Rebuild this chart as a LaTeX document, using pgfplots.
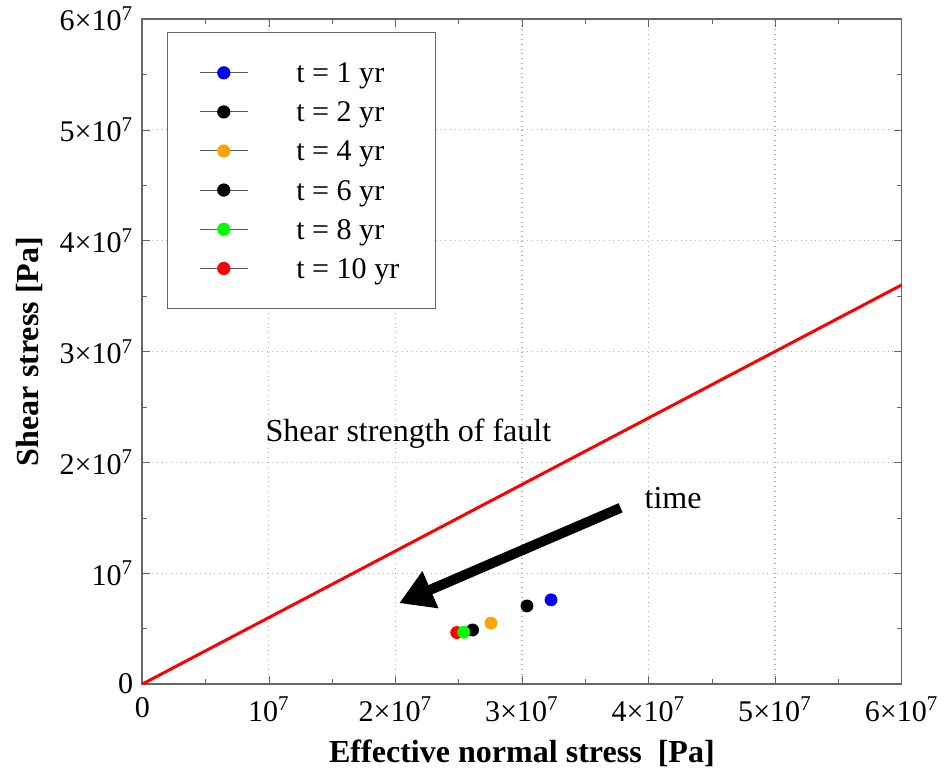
\documentclass[border=0pt]{standalone}
\usepackage{fontspec}
\setmainfont{Liberation Serif}
\usepackage{pgfplots}
\pgfplotsset{compat=1.18}
\usetikzlibrary{arrows.meta}

\definecolor{tone}{RGB}{255,165,0}
\definecolor{gline}{RGB}{0,255,0}

\begin{document}
\begin{tikzpicture}
\begin{axis}[
    scale only axis,
    width=379pt, height=332pt,
    xmin=0, xmax=6e7, ymin=0, ymax=6e7,
    xtick={0,1e7,2e7,3e7,4e7,5e7,6e7},
    ytick={0,1e7,2e7,3e7,4e7,5e7,6e7},
    xticklabels={0,10\textsuperscript{7},2×10\textsuperscript{7},3×10\textsuperscript{7},4×10\textsuperscript{7},5×10\textsuperscript{7},6×10\textsuperscript{7}},
    yticklabels={0,10\textsuperscript{7},2×10\textsuperscript{7},3×10\textsuperscript{7},4×10\textsuperscript{7},5×10\textsuperscript{7},6×10\textsuperscript{7}},
    scaled ticks=false,
    minor tick num=1,
    tick align=inside,
    major tick length=4pt, minor tick length=2.5pt,
    tick style={gray!80!black},
    axis line style={gray!80!black, line width=0.8pt},
    grid=major,
    major grid style={dotted, gray!60, line width=0.6pt},
    tick label style={font=\fontsize{15}{15}\selectfont},
    xticklabel style={yshift=-3pt},
    yticklabel style={xshift=-1pt},
    xlabel={\textbf{Effective normal stress\ \ [Pa]}},
    ylabel={\textbf{Shear stress [Pa]}},
    label style={font=\fontsize{16}{16}\selectfont},
    xlabel style={yshift=-2pt},
    ylabel style={inner ysep=8pt, yshift=-3pt},
    legend style={at={(0.032,0.98)}, anchor=north west,
        draw=gray!80!black, line width=0.6pt,
        font=\fontsize{15}{15}\selectfont,
        inner xsep=16pt, inner ysep=13pt,
        row sep=5.6pt,
        nodes={inner sep=2pt, text depth=0pt}},
    legend cell align=left,
    legend image code/.code={
        \draw[gray!70!black, line width=0.5pt] (0pt,0pt) -- (24pt,0pt);
        \draw[mark repeat=2, mark phase=2, #1] plot coordinates {(0pt,0pt) (12pt,0pt) (24pt,0pt)};
    },
]
\addplot[only marks, mark=*, mark size=3pt, blue, mark options={draw=blue, fill=blue}] coordinates {(3.23e7,0.76e7)};
\addlegendentry{\hspace{22pt}t = 1 yr}
\addplot[only marks, mark=*, mark size=3pt, black] coordinates {(3.04e7,0.705e7)};
\addlegendentry{\hspace{22pt}t = 2 yr}
\addplot[only marks, mark=*, mark size=3pt, tone, mark options={draw=tone, fill=tone}] coordinates {(2.755e7,0.55e7)};
\addlegendentry{\hspace{22pt}t = 4 yr}
\addplot[only marks, mark=*, mark size=3pt, black] coordinates {(2.61e7,0.488e7)};
\addlegendentry{\hspace{22pt}t = 6 yr}
\addplot[only marks, mark=*, mark size=3pt, red, mark options={draw=red, fill=red}, forget plot] coordinates {(2.485e7,0.465e7)};
\addplot[only marks, mark=*, mark size=3pt, gline, mark options={draw=gline, fill=gline}] coordinates {(2.54e7,0.468e7)};
\addlegendentry{\hspace{22pt}t = 8 yr}
\addlegendimage{only marks, mark=*, mark size=3pt, red, mark options={draw=red, fill=red}}
\addlegendentry{\hspace{22pt}t = 10 yr}
\addplot[red, line width=1.5pt, forget plot] coordinates {(0,0) (6e7,3.6e7)};
\draw[black, line width=5pt, -{Triangle[length=17pt, width=19pt]}] (axis cs:3.78e7,1.59e7) -- (axis cs:2.03e7,0.73e7);
\node[anchor=west, font=\fontsize{16}{16}\selectfont] at (axis cs:0.918e7,2.26e7) {Shear strength of fault};
\node[font=\fontsize{16}{16}\selectfont] at (axis cs:4.195e7,1.68e7) {time};
\end{axis}
\end{tikzpicture}
\end{document}
